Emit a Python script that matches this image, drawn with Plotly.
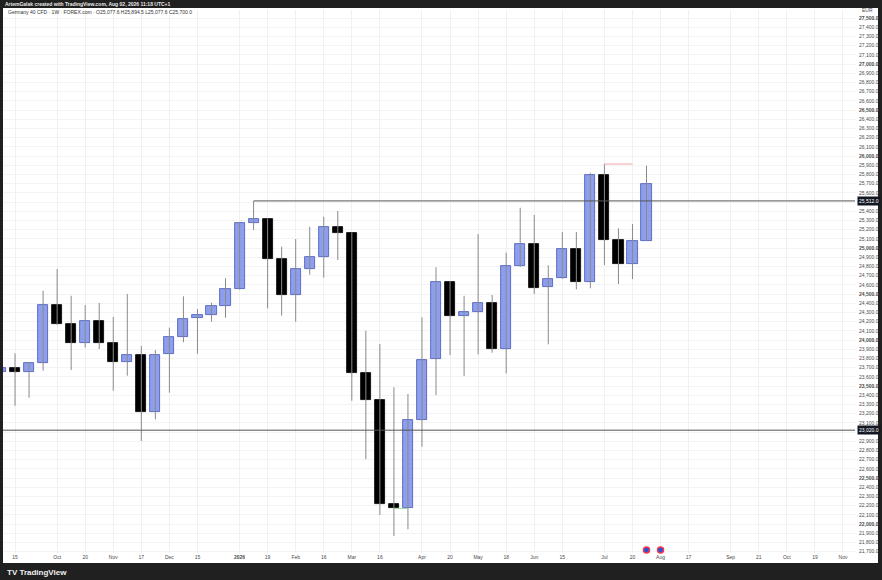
import plotly.graph_objects as go
import pandas as pd

# Wochenkerzen Germany 40 CFD (1W)
dates = pd.date_range("2025-09-08", periods=47, freq="7D")

opens = [23655, 23692, 23649, 23747, 24384, 24171, 23971, 24203, 23964, 23764,
         23837, 23220, 23844, 24029, 24235, 24268, 24366, 24554, 25275, 25312,
         24880, 24489, 24772, 24905, 25231, 25160, 23641, 23348, 22217, 22170,
         23130, 23790, 24634, 24261, 24307, 24399, 23902, 24804, 25043, 24573,
         24671, 24989, 24634, 25797, 25087, 24826, 25077.6]
highs = [23873, 23855, 23758, 24536, 24772, 24481, 24380, 24402, 24250, 24500,
         23935, 23891, 24134, 24475, 24337, 24405, 24671, 25280, 25511, 25322,
         25014, 25098, 25231, 25340, 25402, 25170, 24101, 23956, 23486, 23413,
         24246, 24790, 24640, 24481, 25152, 24489, 24949, 25438, 25359, 24812,
         25174, 25174, 25818, 25913, 25214, 25261, 25894.5]
lows = [23565, 23286, 23373, 23666, 24165, 23674, 23916, 23902, 23449, 23612,
        22902, 23138, 23427, 23975, 23851, 24199, 24242, 24548, 25196, 24344,
        24264, 24199, 24710, 24677, 24870, 23340, 22706, 22098, 21869, 21942,
        22840, 23402, 23837, 23609, 23844, 23862, 23638, 24795, 24500, 23953,
        24665, 24551, 24562, 24815, 24609, 24663, 25077.6]
closes = [23692, 23649, 23747, 24384, 24171, 23971, 24203, 23964, 23764, 23837,
          23220, 23837, 24029, 24231, 24268, 24366, 24551, 25268, 25312, 24880,
          24489, 24768, 24899, 25231, 25160, 23641, 23348, 22217, 22170, 23130,
          23782, 24634, 24261, 24301, 24399, 23902, 24804, 25043, 24568, 24666,
          24989, 24634, 25797, 25087, 24826, 25073, 25700]

# Achsenbeschriftungen unten (wie bei TradingView)
x_tickvals = ["2025-09-15", "2025-10-06", "2025-10-20", "2025-11-03", "2025-11-17",
              "2025-12-01", "2025-12-15", "2026-01-05", "2026-01-19", "2026-02-02",
              "2026-02-16", "2026-03-02", "2026-03-16", "2026-04-06", "2026-04-20",
              "2026-05-04", "2026-05-18", "2026-06-01", "2026-06-15", "2026-07-06",
              "2026-07-20", "2026-08-03", "2026-08-17", "2026-09-07", "2026-09-21",
              "2026-10-05", "2026-10-19", "2026-11-02"]
x_ticktext = ["15", "Oct", "20", "Nov", "17", "Dec", "15", "<b>2026</b>", "19", "Feb",
              "16", "Mar", "16", "Apr", "20", "May", "18", "Jun", "15", "Jul",
              "20", "Aug", "17", "Sep", "21", "Oct", "19", "Nov"]

# Preisachse rechts, alle 100 Punkte
y_tickvals = list(range(21700, 27600, 100))
y_ticktext = [f"<b>{v:,}.0</b>" if v % 500 == 0 else f"{v:,}.0" for v in y_tickvals]

# horizontale Linien
level_top = 25512.0
level_top_start = "2026-01-12"
level_low = 23020.0
event_dates = ["2026-07-27", "2026-08-03"]

font_name = "Liberation Sans, Arial, sans-serif"
blue = "#8c9eec"
blue_line = "#4656b8"

fig = go.Figure()

# Dochte
wx, wy = [], []
for d, lo, hi in zip(dates, lows, highs):
    wx += [d, d, None]
    wy += [lo, hi, None]
fig.add_trace(go.Scatter(x=wx, y=wy, mode="lines",
                         line=dict(color="#8a8a8a", width=1),
                         hoverinfo="skip", showlegend=False))

# Kerzenkörper
up = [c >= o for o, c in zip(opens, closes)]
fig.add_trace(go.Bar(
    x=dates,
    base=[min(o, c) for o, c in zip(opens, closes)],
    y=[max(abs(c - o), 8) for o, c in zip(opens, closes)],
    width=0.72 * 7 * 24 * 3600 * 1000,
    marker=dict(color=[blue if u else "#000000" for u in up],
                line=dict(color=[blue_line if u else "#000000" for u in up], width=0.8)),
    customdata=list(zip(opens, highs, lows, closes)),
    hovertemplate="O %{customdata[0]}<br>H %{customdata[1]}<br>L %{customdata[2]}<br>C %{customdata[3]}<extra></extra>",
    showlegend=False
))

# Ereignis-Punkte unten
fig.add_trace(go.Scatter(
    x=event_dates, y=[21717, 21717], mode="markers",
    marker=dict(size=6, color="#1e53e5", line=dict(color="#f23645", width=1.5)),
    cliponaxis=False, hoverinfo="skip", showlegend=False
))

fig.update_layout(
    width=882,
    height=580,
    margin=dict(l=3, r=27, t=10, b=27),
    paper_bgcolor="#202020",
    plot_bgcolor="white",
    bargap=0,
    xaxis=dict(
        type="date",
        range=["2025-09-09", "2026-11-08"],
        tickvals=x_tickvals,
        ticktext=x_ticktext,
        tickfont=dict(family=font_name, size=5, color="#4a4a4a"),
        showgrid=True, gridcolor="#f0f0f0", gridwidth=1,
        zeroline=False, showline=False, ticks="",
        fixedrange=True
    ),
    yaxis=dict(
        side="right",
        range=[21685, 27587],
        tickvals=y_tickvals,
        ticktext=y_ticktext,
        tickfont=dict(family=font_name, size=5, color="#4a4a4a"),
        showgrid=True, gridcolor="#f3f3f3", gridwidth=1,
        zeroline=False, showline=False, ticks="",
        ticklabelstandoff=3,
        fixedrange=True
    ),
    shapes=[
        # weißer Chartbereich inkl. Preisachse
        dict(type="rect", xref="paper", yref="paper", x0=0, x1=1.027, y0=-0.0184, y1=1.0037,
             fillcolor="white", line=dict(width=0), layer="below"),
        dict(type="line", xref="x", yref="y", x0=level_top_start, x1="2026-11-08",
             y0=level_top, y1=level_top, line=dict(color="#555555", width=1)),
        dict(type="line", xref="paper", yref="y", x0=0, x1=1,
             y0=level_low, y1=level_low, line=dict(color="#555555", width=1)),
        dict(type="line", xref="x", yref="y", x0="2026-07-06", x1="2026-07-20",
             y0=highs[43], y1=highs[43], line=dict(color="#f4a3a8", width=1)),
        dict(type="line", xref="x", yref="y", x0="2026-03-23", x1="2026-03-30",
             y0=closes[28], y1=closes[28], line=dict(color="#7fcf8f", width=0.8)),
    ],
    hovermode=False
)

# Preislabels auf der Achse
for lvl in [level_top, level_low]:
    fig.add_annotation(
        text=f"{lvl:,.1f}", xref="paper", yref="y", x=1.002, y=lvl,
        xanchor="left", yanchor="middle", showarrow=False,
        font=dict(family=font_name, size=5, color="white"),
        bgcolor="#131722", borderpad=1
    )

fig.add_annotation(
    text="EUR", xref="paper", yref="paper", x=1.006, y=1.0,
    xanchor="left", yanchor="middle", showarrow=False,
    font=dict(family=font_name, size=5, color="#4a4a4a")
)

# Kopfzeilen
fig.add_annotation(
    text="<b>ArtemGalak created with TradingView.com, Aug 02, 2026 11:18 UTC+1</b>",
    xref="paper", yref="paper", x=0.0, y=1.011, xanchor="left", yanchor="middle",
    showarrow=False, font=dict(family=font_name, size=5, color="#e8e8e8")
)
fig.add_annotation(
    text="Germany 40 CFD · 1W · FOREX.com · O25,077.6 H25,894.5 L25,077.6 C25,700.0",
    xref="paper", yref="paper", x=0.003, y=0.9963, xanchor="left", yanchor="middle",
    showarrow=False, font=dict(family=font_name, size=5, color="#333333")
)
fig.add_annotation(
    text="<b>TV TradingView</b>",
    xref="paper", yref="paper", x=0.002, y=-0.035, xanchor="left", yanchor="middle",
    showarrow=False, font=dict(family=font_name, size=8, color="#f0f0f0")
)

# Seitenrand entfernen, damit die Grafik genau ins Fenster passt
fig.write_html("out.html",
               config={"displayModeBar": False},
               post_script="document.body.style.margin='0';document.body.style.overflow='hidden';")
